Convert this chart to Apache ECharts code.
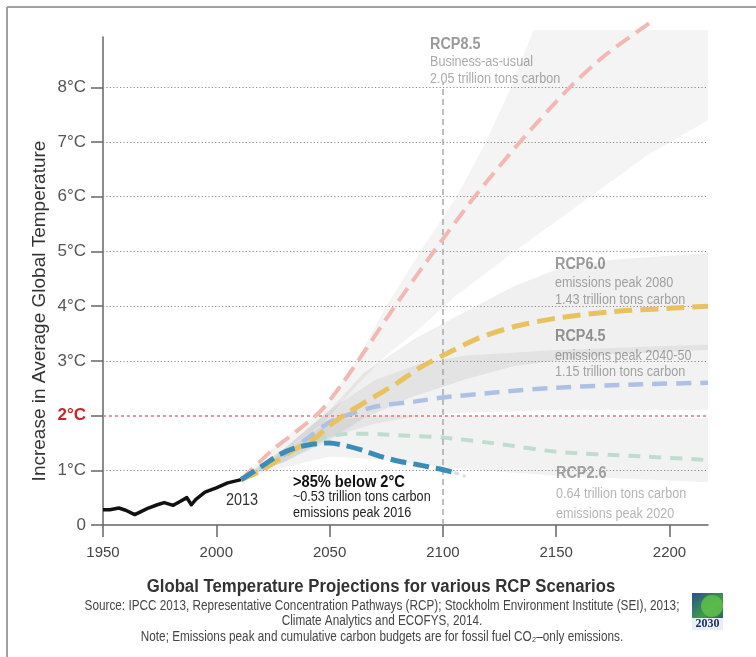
<!DOCTYPE html>
<html><head><meta charset="utf-8">
<script src="https://cdn.jsdelivr.net/npm/echarts@6/dist/echarts.min.js"></script>
<style>html,body{margin:0;padding:0;background:#fff}#c{width:756px;height:657px}</style>
</head><body><div id="c"></div>
<script>
// ---------- data ----------
const xTicks = [1950, 2000, 2050, 2100, 2150, 2200];
const yTicks = [0, 1, 2, 3, 4, 5, 6, 7, 8];
const yTickLabels = ['0', '1°C', '2°C', '3°C', '4°C', '5°C', '6°C', '7°C', '8°C'];
const gridLevels = [1, 3, 4, 5, 6, 7, 8];
const limitLevel = 2;
const refYear = 2100;
const refTop = 8.08;

const historical = [[1950,0.28],[1953,0.28],[1957,0.31],[1960,0.27],[1964,0.19],[1967,0.25],[1970,0.31],[1974,0.37],[1977,0.41],[1981,0.36],[1984,0.43],[1987,0.50],[1989,0.37],[1991,0.47],[1995,0.60],[2000,0.68],[2005,0.77],[2011,0.83]];
const below2 = [[2011,0.83],[2021,1.10],[2028,1.29],[2035,1.41],[2043,1.48],[2050,1.50],[2057,1.45],[2065,1.36],[2072,1.26],[2080,1.17],[2088,1.11],[2094,1.06],[2100,1.01],[2105,0.96]];
const below2Tail = [[2105,0.96],[2110,0.89]];
const rcp85 = [[2011,0.83],[2025,1.38],[2035,1.70],[2046,2.08],[2055,2.55],[2065,3.15],[2078,3.95],[2096,5.00],[2114,6.00],[2134,7.00],[2156,8.00],[2172,8.60],[2191,9.17]];
const rcp60 = [[2011,0.83],[2020,1.00],[2032,1.32],[2044,1.60],[2050,1.82],[2058,2.05],[2070,2.35],[2080,2.60],[2090,2.88],[2100,3.10],[2116,3.42],[2131,3.62],[2150,3.78],[2175,3.90],[2200,3.96],[2217,4.00]];
const rcp45 = [[2011,0.83],[2020,1.02],[2030,1.28],[2040,1.58],[2050,1.88],[2060,2.04],[2071,2.17],[2088,2.26],[2100,2.33],[2125,2.43],[2150,2.51],[2185,2.57],[2217,2.60]];
const rcp26 = [[2011,0.83],[2020,1.03],[2030,1.30],[2040,1.50],[2050,1.62],[2060,1.67],[2072,1.66],[2085,1.63],[2100,1.60],[2125,1.48],[2150,1.34],[2185,1.26],[2217,1.19]];

// uncertainty bands: [year, low, high]
const band85 = [[2011,0.85,0.85],[2025,1.2,1.4],[2035,1.5,1.75],[2047,1.85,2.1],[2062,2.55,3.0],[2075,3.1,4.0],[2090,3.6,5.0],[2106,4.2,6.0],[2119,4.6,7.0],[2130,4.95,8.0],[2140,5.25,9.05],[2170,6.15,9.05],[2190,6.75,9.05],[2217,7.4,9.05]];
const band60 = [[2011,0.85,0.85],[2030,1.15,1.4],[2050,1.55,2.1],[2065,1.95,2.78],[2087,2.35,3.39],[2109,2.65,3.88],[2131,2.9,4.36],[2150,3.0,4.67],[2175,3.12,4.85],[2217,3.2,4.97]];
const band45 = [[2011,0.85,0.85],[2030,1.15,1.4],[2050,1.6,2.1],[2070,1.85,2.65],[2090,2.0,2.95],[2110,2.05,3.1],[2150,2.1,3.2],[2217,2.1,3.3]];
const band26 = [[2011,0.85,0.85],[2030,1.05,1.35],[2050,1.25,1.9],[2070,1.2,2.0],[2100,1.05,2.0],[2150,0.9,1.98],[2217,0.78,1.95]];

// ---------- chart ----------
const FONT = "'Liberation Sans', Arial, sans-serif";
const chart = echarts.init(document.getElementById('c'), null, {renderer: 'canvas'});

function bandSeries(rows, color) {
  return {
    type: 'custom', z: 1, silent: true, clip: false,
    data: [0],
    renderItem: function (params, api) {
      const upper = rows.map(r => api.coord([r[0], r[2]]));
      const lower = rows.slice().reverse().map(r => api.coord([r[0], r[1]]));
      return { type: 'polygon', shape: { points: upper.concat(lower) }, style: { fill: color } };
    }
  };
}
function dashLine(name, data, color, width, dash, z) {
  return {
    name, type: 'line', data, showSymbol: false, smooth: 0.25, clip: false, silent: true, z,
    lineStyle: { color, width, type: dash, cap: 'butt' }
  };
}
// condensed-looking text helper
function txt(x, y, text, fill, size, opts) {
  opts = opts || {};
  return {
    type: 'text', x, y, scaleX: opts.sx || 0.9, scaleY: 1,
    style: { text, fill, font: (opts.bold ? 'bold ' : '') + size + 'px ' + FONT, align: opts.align || 'left', verticalAlign: 'middle' }
  };
}

const option = {
  backgroundColor: '#fff',
  animation: false,
  textStyle: { fontFamily: FONT },
  grid: { left: 103, right: 48, top: 37, bottom: 132 },
  xAxis: {
    type: 'value', min: 1950, max: 2217, interval: 50,
    axisLine: { lineStyle: { color: '#666', width: 1.5 } },
    axisTick: { customValues: xTicks, length: 12, lineStyle: { color: '#666', width: 1.5 } },
    axisLabel: { customValues: xTicks, color: '#444', fontSize: 15, margin: 20, fontFamily: FONT, formatter: v => String(v) },
    splitLine: { show: false }
  },
  yAxis: {
    type: 'value', min: 0, max: 8.92,
    axisLine: { show: true, lineStyle: { color: '#666', width: 1.5 } },
    axisTick: { show: true, customValues: yTicks, length: 12, lineStyle: { color: '#666', width: 1.5 } },
    axisLabel: {
      customValues: yTicks, color: '#555', fontSize: 17, margin: 17, fontFamily: FONT,
      formatter: v => { const i = yTicks.indexOf(v); const t = yTickLabels[i]; return v === limitLevel ? '{r|' + t + '}' : t; },
      rich: { r: { color: '#c8262c', fontWeight: 'bold', fontSize: 17, fontFamily: FONT } }
    },
    splitLine: { show: false }
  },
  series: [
    bandSeries(band85, 'rgba(0,0,0,0.045)'),
    bandSeries(band60, 'rgba(0,0,0,0.06)'),
    bandSeries(band45, 'rgba(0,0,0,0.05)'),
    bandSeries(band26, 'rgba(0,0,0,0.05)'),
    {
      name: 'Historical', type: 'line', data: historical, showSymbol: false, z: 3, silent: true,
      lineStyle: { color: '#111', width: 3.5, join: 'round' },
      markLine: {
        silent: true, symbol: 'none', label: { show: false }, animation: false,
        data: gridLevels.map(v => ({ yAxis: v, lineStyle: { color: '#8a8a8a', width: 1, type: [1.2, 2.2] } }))
          .concat([{ yAxis: limitLevel, lineStyle: { color: '#e07575', width: 1.5, type: [3, 3] } }])
          .concat([[{ coord: [refYear, 0], lineStyle: { color: '#a8a8a8', width: 1.5, type: [6, 4] } }, { coord: [refYear, refTop] }]])
      }
    },
    dashLine('RCP2.6', rcp26, '#bfdcd0', 4, [12, 9], 4),
    dashLine('RCP4.5', rcp45, '#adc0e6', 4.5, [15, 9], 5),
    dashLine('RCP6.0', rcp60, '#e9c25f', 5, [18, 8], 6),
    dashLine('RCP8.5', rcp85, '#f4b8b3', 4, [16, 8], 7),
    dashLine('>85% below 2°C', below2, '#3a8db6', 5, [16, 7], 8),
    dashLine('tail', below2Tail, '#cfe1ea', 3, [5, 4], 8)
  ],
  graphic: [
    // frame
    { type: 'line', shape: { x1: 7, y1: 7, x2: 756, y2: 7 }, style: { stroke: '#a0a0a0', lineWidth: 2 } },
    { type: 'line', shape: { x1: 7, y1: 7, x2: 7, y2: 657 }, style: { stroke: '#a0a0a0', lineWidth: 2 } },
    // axis name
    { type: 'text', x: 40, y: 311, rotation: Math.PI / 2, style: { text: 'Increase in Average Global Temperature', fill: '#333', font: '19px ' + FONT, align: 'center', verticalAlign: 'middle' } },
    // scenario labels
    txt(430, 45, 'RCP8.5', '#9a9a9a', 16, { bold: true }),
    txt(430, 62, 'Business-as-usual', '#ababab', 14),
    txt(430, 79, '2.05 trillion tons carbon', '#ababab', 14),
    txt(555, 265, 'RCP6.0', '#9a9a9a', 16, { bold: true }),
    txt(555, 283, 'emissions peak 2080', '#ababab', 14),
    txt(555, 300, '1.43 trillion tons carbon', '#ababab', 14),
    txt(555, 337, 'RCP4.5', '#9a9a9a', 16, { bold: true }),
    txt(555, 356, 'emissions peak 2040-50', '#ababab', 14),
    txt(555, 372, '1.15 trillion tons carbon', '#ababab', 14),
    txt(556, 474, 'RCP2.6', '#a8a8a8', 16, { bold: true }),
    txt(556, 494, '0.64 trillion tons carbon', '#b5b5b5', 14),
    txt(556, 514, 'emissions peak 2020', '#b5b5b5', 14),
    txt(293, 482, '>85% below 2°C', '#111', 17, { bold: true, sx: 0.86 }),
    txt(293, 497, '~0.53 trillion tons carbon', '#222', 14),
    txt(293, 513, 'emissions peak 2016', '#222', 14),
    txt(242, 501, '2013', '#333', 16, { align: 'center' }),
    // titles
    txt(381, 587, 'Global Temperature Projections for various RCP Scenarios', '#333', 18, { bold: true, align: 'center', sx: 0.93 }),
    txt(382, 606, 'Source: IPCC 2013, Representative Concentration Pathways (RCP); Stockholm Environment Institute (SEI), 2013;', '#444', 14, { align: 'center', sx: 0.84 }),
    txt(382, 621, 'Climate Analytics and ECOFYS, 2014.', '#444', 14, { align: 'center', sx: 0.84 }),
    txt(382, 637, 'Note; Emissions peak and cumulative carbon budgets are for fossil fuel CO₂–only emissions.', '#444', 14, { align: 'center', sx: 0.84 }),
    // 2030 logo
    { type: 'rect', shape: { x: 692, y: 593, width: 31, height: 37 }, style: { fill: new echarts.graphic.LinearGradient(0, 0, 1, 1, [{ offset: 0, color: '#2a4f8c' }, { offset: 0.5, color: '#3f9b4a' }, { offset: 1, color: '#1d3f78' }]) } },
    { type: 'circle', shape: { cx: 712, cy: 606, r: 11 }, style: { fill: '#5fbf4a', opacity: 0.85 } },
    { type: 'rect', shape: { x: 692, y: 618, width: 31, height: 12 }, style: { fill: '#e8eef5' } },
    { type: 'text', x: 707.5, y: 624, style: { text: '2030', fill: '#1b2d5a', font: 'bold 12px serif', align: 'center', verticalAlign: 'middle' } }
  ]
};
chart.setOption(option);
</script>
</body></html>
